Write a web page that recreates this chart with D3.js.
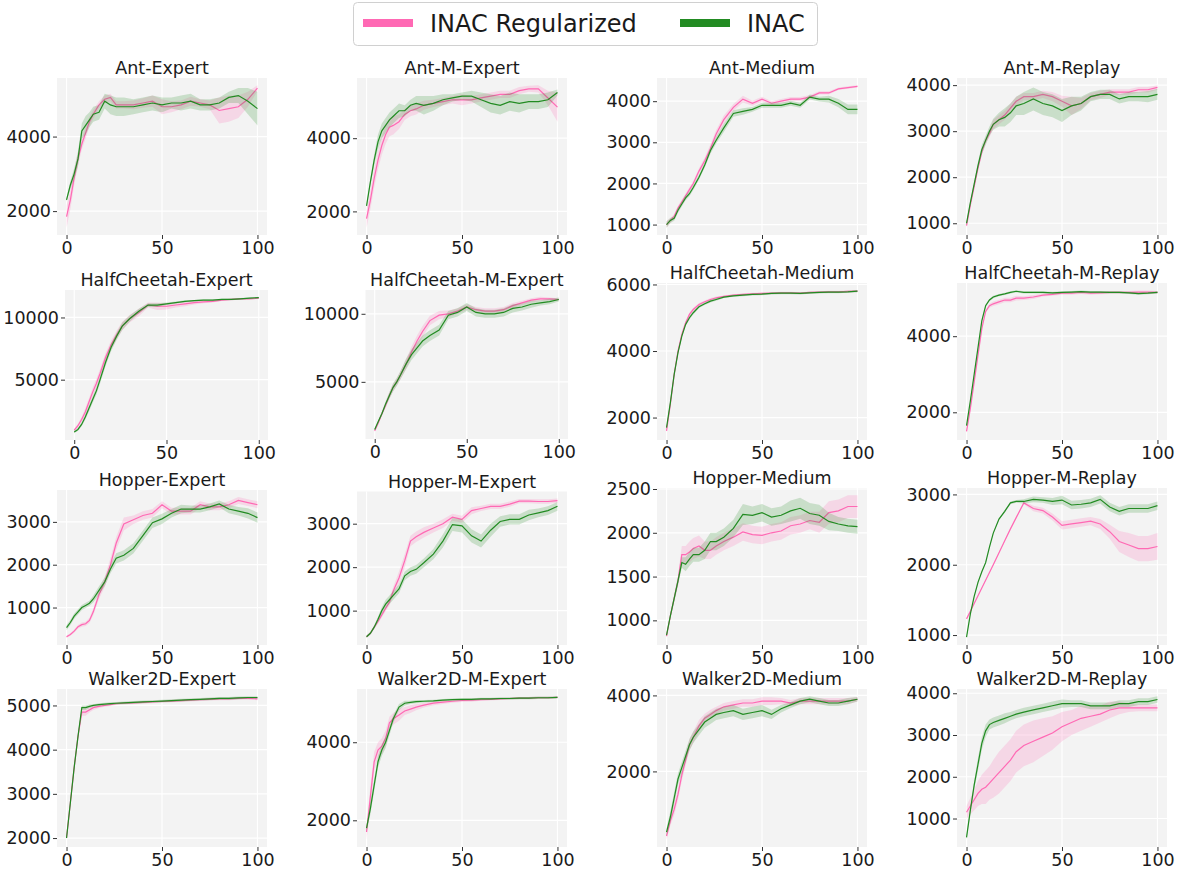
<!DOCTYPE html>
<html>
<head>
<meta charset="utf-8">
<script src="https://cdn.jsdelivr.net/npm/d3@7"></script>
<style>
  body { margin: 0; background: #fff; }
  text { font-family: "DejaVu Sans", sans-serif; }
</style>
</head>
<body>
<svg id="chart" width="1178" height="874"></svg>
<script>
const steps = [0, 2, 4, 6, 8, 10, 12, 14, 17, 20, 23, 26, 30, 35, 40, 45, 50, 55, 60, 65, 70, 75, 80, 85, 90, 95, 100];

const titles = [
  'Ant-Expert', 'Ant-M-Expert', 'Ant-Medium', 'Ant-M-Replay',
  'HalfCheetah-Expert', 'HalfCheetah-M-Expert', 'HalfCheetah-Medium', 'HalfCheetah-M-Replay',
  'Hopper-Expert', 'Hopper-M-Expert', 'Hopper-Medium', 'Hopper-M-Replay',
  'Walker2D-Expert', 'Walker2D-M-Expert', 'Walker2D-Medium', 'Walker2D-M-Replay'
];

const yTickValues = [
  [2000, 4000], [2000, 4000], [1000, 2000, 3000, 4000], [1000, 2000, 3000, 4000],
  [5000, 10000], [5000, 10000], [2000, 4000, 6000], [2000, 4000],
  [1000, 2000, 3000], [1000, 2000, 3000], [1000, 1500, 2000, 2500], [1000, 2000, 3000],
  [2000, 3000, 4000, 5000], [2000, 4000], [2000, 4000], [1000, 2000, 3000, 4000]
];

const xTickValues = [0, 50, 100];

const seriesNames = ['INAC Regularized', 'INAC'];

// INAC Regularized: mean return per panel
const regMean = [
  [1850, 2300, 2900, 3400, 3800, 4100, 4400, 4600, 4850, 5000, 5050, 4850, 4850, 4850, 4900, 4950, 4800, 4800, 4850, 4950, 4900, 4850, 4700, 4750, 4800, 5000, 5300],
  [1800, 2300, 2900, 3400, 3800, 4100, 4300, 4350, 4450, 4650, 4750, 4800, 4900, 4950, 5000, 5050, 5050, 5050, 5100, 5150, 5200, 5200, 5300, 5350, 5350, 5100, 4850],
  [1000, 1100, 1200, 1400, 1550, 1700, 1850, 2000, 2300, 2550, 2850, 3200, 3550, 3850, 4050, 3950, 4050, 3950, 4000, 4050, 4050, 4100, 4200, 4200, 4300, 4330, 4360],
  [950, 1400, 1800, 2200, 2550, 2800, 2950, 3150, 3250, 3350, 3500, 3650, 3750, 3750, 3800, 3750, 3650, 3550, 3600, 3750, 3800, 3850, 3850, 3850, 3900, 3900, 3950],
  [950, 1300, 1800, 2400, 3200, 4000, 4700, 5500, 6800, 7800, 8600, 9300, 9900, 10400, 11000, 10900, 10900, 11000, 11100, 11200, 11250, 11300, 11400, 11450, 11500, 11500, 11550],
  [1400, 2000, 2700, 3300, 4000, 4600, 5000, 5500, 6300, 7200, 8000, 8700, 9500, 9900, 10000, 10200, 10500, 10300, 10200, 10200, 10300, 10600, 10800, 11000, 11100, 11100, 11050],
  [1600, 2400, 3300, 4000, 4500, 4850, 5100, 5250, 5400, 5480, 5550, 5600, 5640, 5680, 5700, 5720, 5730, 5740, 5750, 5750, 5740, 5760, 5770, 5780, 5780, 5790, 5800],
  [1500, 2100, 2800, 3500, 4200, 4650, 4800, 4850, 4900, 4950, 4950, 5000, 5000, 5030, 5080, 5100, 5130, 5130, 5150, 5130, 5140, 5150, 5150, 5150, 5160, 5160, 5150],
  [320, 370, 450, 550, 600, 620, 700, 900, 1300, 1600, 2000, 2500, 2950, 3050, 3150, 3200, 3400, 3250, 3250, 3250, 3400, 3350, 3350, 3400, 3500, 3450, 3400],
  [400, 480, 620, 750, 900, 1050, 1200, 1450, 1750, 2150, 2600, 2700, 2800, 2900, 3000, 3150, 3100, 3300, 3350, 3400, 3400, 3450, 3520, 3520, 3510, 3510, 3530],
  [820, 1050, 1250, 1450, 1750, 1750, 1780, 1820, 1850, 1800, 1800, 1850, 1900, 1950, 2010, 1980, 1970, 2000, 2020, 2080, 2100, 2140, 2120, 2230, 2250, 2300, 2300],
  [1230, 1340, 1450, 1560, 1670, 1780, 1890, 2000, 2170, 2340, 2510, 2670, 2880, 2800, 2770, 2680, 2560, 2580, 2600, 2620, 2580, 2470, 2330, 2280, 2230, 2230, 2260],
  [2000, 2800, 3600, 4300, 4850, 4850, 4900, 4950, 4980, 5000, 5020, 5040, 5050, 5060, 5070, 5080, 5090, 5100, 5110, 5120, 5130, 5140, 5150, 5150, 5160, 5160, 5150],
  [1700, 2600, 3500, 3800, 3900, 4100, 4500, 4600, 4700, 4800, 4850, 4900, 4950, 5000, 5030, 5050, 5070, 5080, 5090, 5100, 5110, 5120, 5130, 5130, 5140, 5140, 5150],
  [300, 700, 1000, 1400, 1900, 2300, 2700, 2900, 3200, 3400, 3500, 3600, 3700, 3750, 3800, 3800, 3850, 3850, 3850, 3800, 3850, 3850, 3850, 3850, 3850, 3850, 3900],
  [1150, 1300, 1450, 1600, 1700, 1750, 1850, 1950, 2100, 2250, 2400, 2600, 2750, 2850, 2950, 3050, 3200, 3300, 3400, 3450, 3500, 3600, 3650, 3650, 3650, 3650, 3650]
];

// INAC Regularized: spread (half-width of shaded band)
const regStd = [
  [300, 250, 200, 180, 150, 150, 130, 120, 100, 100, 100, 100, 100, 120, 130, 150, 200, 150, 120, 120, 100, 120, 350, 350, 300, 200, 80],
  [250, 250, 250, 250, 250, 250, 250, 250, 200, 150, 150, 150, 120, 100, 100, 100, 150, 100, 100, 100, 100, 100, 100, 80, 100, 200, 400],
  [80, 60, 60, 60, 60, 60, 60, 60, 70, 80, 100, 100, 100, 80, 80, 60, 60, 50, 50, 50, 50, 50, 40, 40, 30, 30, 30],
  [50, 50, 60, 60, 60, 60, 80, 100, 100, 100, 100, 100, 80, 80, 80, 100, 120, 200, 120, 80, 80, 60, 60, 60, 60, 60, 50],
  [100, 150, 200, 300, 300, 350, 350, 350, 350, 350, 350, 350, 300, 300, 200, 300, 250, 200, 200, 150, 100, 100, 80, 80, 60, 60, 60],
  [100, 100, 150, 200, 250, 250, 250, 300, 350, 400, 400, 400, 350, 300, 250, 200, 200, 200, 200, 200, 200, 200, 150, 150, 150, 100, 100],
  [60, 60, 60, 60, 50, 50, 50, 50, 40, 40, 40, 40, 30, 30, 30, 30, 30, 30, 30, 30, 30, 30, 30, 30, 30, 30, 30],
  [40, 40, 40, 40, 40, 40, 50, 60, 60, 60, 60, 60, 50, 50, 40, 40, 40, 40, 40, 40, 40, 40, 40, 40, 40, 40, 40],
  [30, 30, 40, 40, 50, 50, 60, 80, 100, 120, 150, 150, 150, 100, 100, 100, 80, 80, 80, 80, 80, 80, 80, 80, 80, 80, 80],
  [30, 30, 40, 50, 60, 60, 80, 100, 150, 150, 120, 120, 120, 100, 100, 80, 80, 80, 60, 60, 60, 60, 50, 50, 50, 50, 50],
  [20, 30, 40, 60, 100, 100, 120, 120, 120, 100, 100, 100, 100, 100, 100, 100, 100, 100, 100, 100, 100, 100, 120, 130, 130, 130, 130],
  [10, 10, 10, 10, 10, 10, 10, 10, 10, 10, 10, 10, 20, 40, 40, 50, 60, 60, 60, 60, 70, 100, 150, 170, 180, 180, 190],
  [40, 60, 60, 60, 80, 80, 60, 50, 40, 30, 30, 30, 30, 30, 30, 30, 30, 30, 30, 30, 30, 30, 30, 30, 30, 30, 30],
  [200, 250, 250, 200, 200, 200, 150, 150, 150, 100, 100, 80, 60, 50, 50, 40, 40, 40, 30, 30, 30, 30, 30, 30, 30, 30, 30],
  [100, 120, 150, 150, 150, 150, 150, 150, 150, 120, 120, 100, 100, 100, 100, 100, 100, 100, 80, 80, 80, 80, 80, 80, 80, 80, 60],
  [150, 200, 250, 300, 350, 400, 400, 450, 500, 500, 500, 500, 500, 500, 450, 400, 350, 300, 300, 250, 200, 200, 150, 100, 80, 80, 80]
];

// INAC: mean return per panel
const inacMean = [
  [2300, 2700, 3000, 3400, 4150, 4300, 4450, 4600, 4650, 4950, 4850, 4800, 4800, 4800, 4850, 4900, 4850, 4900, 4900, 4950, 4850, 4850, 4900, 5050, 5100, 4950, 4750],
  [2150, 2800, 3400, 3900, 4200, 4350, 4500, 4600, 4750, 4750, 4900, 4950, 4900, 4950, 5050, 5100, 5150, 5150, 5050, 4950, 4900, 5000, 4950, 5000, 5000, 5050, 5250],
  [1000, 1100, 1150, 1350, 1500, 1650, 1750, 1900, 2150, 2450, 2800, 3050, 3350, 3700, 3750, 3800, 3900, 3900, 3900, 3950, 3900, 4100, 4050, 4050, 3950, 3800, 3800],
  [1000, 1450, 1850, 2250, 2600, 2800, 3000, 3150, 3250, 3300, 3400, 3550, 3600, 3700, 3600, 3550, 3450, 3550, 3600, 3750, 3800, 3800, 3700, 3750, 3750, 3750, 3800],
  [800, 1000, 1400, 2000, 2700, 3400, 4100, 5000, 6400, 7600, 8500, 9300, 9900, 10500, 11000, 11000, 11100, 11200, 11300, 11350, 11400, 11400, 11450, 11450, 11500, 11550, 11600],
  [1500, 2100, 2700, 3400, 4000, 4600, 5000, 5500, 6300, 7000, 7500, 8000, 8400, 8800, 9900, 10100, 10500, 10100, 10000, 10000, 10100, 10400, 10500, 10700, 10800, 10900, 11050],
  [1700, 2450, 3300, 3950, 4450, 4800, 5000, 5150, 5330, 5420, 5500, 5550, 5620, 5660, 5680, 5700, 5710, 5730, 5740, 5740, 5730, 5750, 5760, 5770, 5770, 5780, 5800],
  [1650, 2300, 3000, 3700, 4400, 4800, 4950, 5030, 5080, 5110, 5150, 5180, 5150, 5150, 5150, 5140, 5150, 5160, 5170, 5160, 5160, 5150, 5150, 5140, 5120, 5130, 5150],
  [530, 650, 800, 900, 1000, 1050, 1100, 1200, 1400, 1600, 1900, 2150, 2220, 2380, 2680, 2980, 3070, 3200, 3300, 3300, 3300, 3350, 3420, 3300, 3250, 3200, 3100],
  [400, 480, 620, 800, 1000, 1150, 1250, 1350, 1500, 1800, 1900, 1950, 2100, 2300, 2600, 2980, 2950, 2720, 2600, 2850, 3050, 3100, 3100, 3200, 3250, 3300, 3400],
  [830, 1050, 1250, 1450, 1660, 1640, 1700, 1750, 1750, 1800, 1900, 1900, 1950, 2050, 2210, 2200, 2230, 2180, 2200, 2250, 2280, 2220, 2200, 2130, 2100, 2080, 2070],
  [970, 1300, 1550, 1750, 1900, 2030, 2250, 2450, 2650, 2760, 2880, 2900, 2900, 2930, 2920, 2900, 2920, 2850, 2860, 2880, 2930, 2820, 2760, 2800, 2800, 2800, 2840],
  [2000, 2800, 3600, 4300, 4950, 4950, 4980, 5000, 5020, 5030, 5040, 5050, 5060, 5070, 5080, 5090, 5100, 5110, 5120, 5130, 5140, 5150, 5160, 5160, 5170, 5180, 5180],
  [1800, 2300, 2900, 3500, 3800, 4000, 4300, 4600, 4900, 5000, 5020, 5040, 5050, 5060, 5080, 5090, 5100, 5100, 5110, 5110, 5120, 5120, 5130, 5130, 5140, 5140, 5150],
  [400, 800, 1300, 1800, 2100, 2400, 2700, 2900, 3100, 3300, 3400, 3500, 3550, 3600, 3500, 3550, 3600, 3500, 3650, 3750, 3850, 3900, 3850, 3800, 3800, 3850, 3900],
  [550, 1200, 1800, 2300, 2800, 3100, 3250, 3300, 3350, 3400, 3450, 3500, 3550, 3600, 3650, 3700, 3750, 3750, 3750, 3700, 3700, 3700, 3750, 3750, 3800, 3800, 3850]
];

// INAC: spread (half-width of shaded band)
const inacStd = [
  [50, 100, 150, 200, 200, 250, 200, 200, 200, 200, 250, 250, 250, 200, 200, 200, 200, 150, 200, 200, 150, 150, 150, 150, 200, 350, 450],
  [50, 100, 150, 200, 200, 200, 200, 200, 200, 150, 150, 200, 250, 200, 150, 100, 100, 150, 200, 250, 250, 250, 250, 200, 200, 200, 80],
  [80, 60, 60, 60, 60, 60, 60, 60, 60, 60, 80, 80, 100, 80, 80, 60, 60, 60, 60, 60, 60, 60, 60, 80, 100, 120, 120],
  [50, 50, 60, 80, 100, 100, 100, 120, 150, 200, 200, 200, 250, 250, 250, 250, 250, 200, 150, 100, 100, 100, 100, 100, 100, 120, 120],
  [100, 100, 150, 200, 250, 250, 300, 300, 300, 300, 300, 300, 250, 200, 150, 150, 100, 80, 80, 60, 60, 60, 60, 60, 60, 60, 60],
  [100, 100, 150, 200, 250, 300, 300, 300, 400, 400, 400, 400, 400, 400, 300, 300, 300, 300, 300, 300, 300, 300, 250, 250, 200, 200, 150],
  [50, 50, 50, 50, 50, 50, 50, 50, 40, 40, 40, 40, 30, 30, 30, 30, 30, 30, 30, 30, 30, 30, 30, 30, 30, 30, 30],
  [30, 30, 30, 30, 30, 30, 30, 30, 30, 30, 30, 30, 30, 30, 30, 30, 30, 30, 30, 30, 30, 30, 30, 30, 30, 30, 30],
  [60, 60, 60, 60, 60, 60, 60, 80, 100, 100, 100, 120, 120, 120, 120, 120, 120, 100, 100, 80, 80, 80, 80, 100, 100, 120, 120],
  [30, 30, 40, 60, 80, 100, 100, 100, 100, 100, 100, 100, 100, 120, 150, 150, 150, 150, 150, 150, 120, 120, 120, 120, 100, 100, 100],
  [20, 30, 40, 50, 60, 80, 80, 80, 80, 100, 100, 100, 100, 100, 120, 100, 100, 100, 100, 120, 120, 120, 120, 100, 80, 80, 80],
  [10, 10, 10, 10, 10, 10, 10, 10, 10, 20, 20, 20, 30, 40, 40, 50, 60, 60, 60, 60, 60, 60, 60, 60, 60, 60, 60],
  [30, 40, 40, 40, 50, 50, 40, 30, 30, 30, 30, 30, 30, 30, 30, 30, 30, 30, 30, 30, 30, 30, 30, 30, 30, 30, 30],
  [100, 150, 150, 150, 150, 150, 120, 100, 80, 60, 40, 40, 30, 30, 30, 30, 30, 30, 30, 30, 30, 30, 30, 30, 30, 30, 30],
  [100, 150, 150, 150, 150, 150, 150, 150, 150, 150, 150, 150, 150, 150, 150, 150, 150, 120, 100, 80, 80, 80, 80, 80, 80, 80, 60],
  [60, 80, 100, 150, 150, 150, 120, 120, 120, 120, 100, 100, 100, 100, 100, 100, 100, 80, 80, 80, 80, 80, 80, 80, 80, 80, 80]
];

const colors = ['#ff69b4', '#228b22'];

// panel boxes [left, top, width, height]; the layout in the source is not a perfect grid
const panelBox = [
  [57, 78, 210, 157], [357, 78, 210, 157], [657, 78, 210, 157], [957, 78, 210, 157],
  [65, 290, 203, 150], [365.5, 290, 202.5, 149], [657, 283, 210, 157], [957, 283, 210, 157],
  [57, 490, 210, 155], [357, 491.5, 210, 153.5], [657, 488, 210, 157], [957, 488, 210, 157],
  [57, 689, 210, 158], [357, 689, 210, 158], [657, 689, 210, 158], [957, 689, 210, 158]
];

const svg = d3.select('#chart');

titles.forEach(function(title, i) {
  const [left, top, w, h] = panelBox[i];
  const g = svg.append('g')
    .attr('transform', 'translate(' + left + ',' + top + ')');

  const series = [
    steps.map((s, k) => ({ x: s, m: regMean[i][k], sd: regStd[i][k] })),
    steps.map((s, k) => ({ x: s, m: inacMean[i][k], sd: inacStd[i][k] }))
  ];

  // matplotlib style autoscale with 5% margins
  const lo = d3.min(series, d => d3.min(d, p => p.m - p.sd));
  const hi = d3.max(series, d => d3.max(d, p => p.m + p.sd));
  const pad = (hi - lo) * 0.05;

  const x = d3.scaleLinear().domain([-5, 105]).range([0, w]);
  const y = d3.scaleLinear().domain([lo - pad, hi + pad]).range([h, 0]);

  g.append('rect')
    .attr('width', w)
    .attr('height', h)
    .attr('fill', '#f3f3f3');

  // grid
  g.selectAll('.vgrid')
    .data(xTickValues)
    .enter().append('line')
    .attr('x1', d => x(d)).attr('x2', d => x(d))
    .attr('y1', 0).attr('y2', h)
    .attr('stroke', '#fff').attr('stroke-width', 1.2);
  g.selectAll('.hgrid')
    .data(yTickValues[i])
    .enter().append('line')
    .attr('x1', 0).attr('x2', w)
    .attr('y1', d => y(d)).attr('y2', d => y(d))
    .attr('stroke', '#fff').attr('stroke-width', 1.2);

  const band = d3.area()
    .x(d => x(d.x))
    .y0(d => y(d.m - d.sd))
    .y1(d => y(d.m + d.sd));

  const line = d3.line()
    .x(d => x(d.x))
    .y(d => y(d.m));

  series.forEach(function(s, k) {
    g.append('path')
      .attr('d', band(s))
      .attr('fill', colors[k])
      .attr('fill-opacity', 0.2);
    g.append('path')
      .attr('d', line(s))
      .attr('fill', 'none')
      .attr('stroke', colors[k])
      .attr('stroke-width', 1.2);
  });

  // axes
  const yAxis = g.append('g')
    .call(d3.axisLeft(y).tickValues(yTickValues[i]).tickSize(4).tickPadding(2).tickFormat(d3.format('d')));
  const xAxis = g.append('g')
    .attr('transform', 'translate(0,' + h + ')')
    .call(d3.axisBottom(x).tickValues(xTickValues).tickSize(4).tickPadding(3).tickFormat(d3.format('d')));

  [xAxis, yAxis].forEach(function(a) {
    a.select('.domain').remove();
    a.selectAll('line').attr('stroke', '#333');
    a.selectAll('text')
      .attr('fill', '#1a1a1a')
      .style('font-size', '17.5px')
      .style('font-family', '"DejaVu Sans", sans-serif');
  });

  g.append('text')
    .attr('x', w / 2)
    .attr('y', -4)
    .attr('text-anchor', 'middle')
    .attr('fill', '#1a1a1a')
    .style('font-size', '17.5px')
    .text(title);
});

// legend
const legend = svg.append('g');
legend.append('rect')
  .attr('x', 353.5).attr('y', 2.5)
  .attr('width', 464).attr('height', 43)
  .attr('rx', 4)
  .attr('fill', '#fff')
  .attr('stroke', '#d0d0d0');

const legendX = [363, 680];
seriesNames.forEach(function(name, k) {
  legend.append('line')
    .attr('x1', legendX[k]).attr('x2', legendX[k] + 50)
    .attr('y1', 23).attr('y2', 23)
    .attr('stroke', colors[k])
    .attr('stroke-width', 8);
  legend.append('text')
    .attr('x', legendX[k] + 67)
    .attr('y', 32)
    .attr('fill', '#1a1a1a')
    .style('font-size', '24px')
    .text(name);
});
</script>
</body>
</html>
